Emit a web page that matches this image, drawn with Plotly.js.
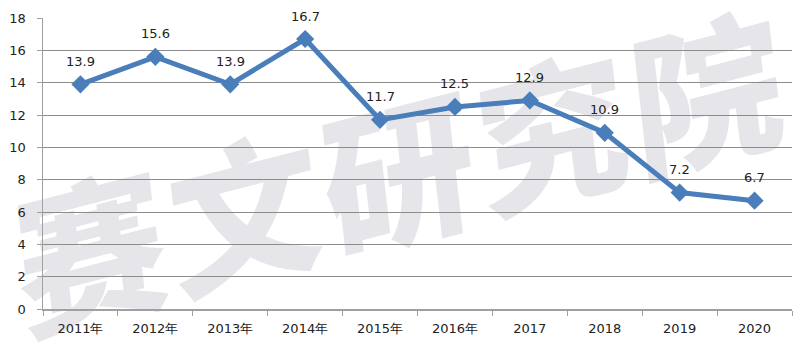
<!DOCTYPE html>
<html>
<head>
<meta charset="utf-8">
<script src="https://cdn.plot.ly/plotly-3.0.1.min.js"></script>
<style>
html,body{margin:0;padding:0;background:#fff;}
#wrap{position:relative;width:811px;height:354px;overflow:hidden;background:#fff;}
#wm{position:absolute;left:400px;top:165px;transform:translate(-50%,-50%) rotate(-14.5deg) skewX(-8deg);
  font-family:"Noto Sans CJK SC";font-weight:900;font-size:154px;color:#e6e6ea;white-space:nowrap;line-height:1;letter-spacing:5px;}
#chart{position:absolute;left:0;top:0;width:811px;height:354px;}
</style>
</head>
<body>
<div id="wrap">
<div id="wm">赛文研究院</div>
<div id="chart"></div>
</div>
<script>
const categories = ["2011年","2012年","2013年","2014年","2015年","2016年","2017","2018","2019","2020"];
const values = [13.9, 15.6, 13.9, 16.7, 11.7, 12.5, 12.9, 10.9, 7.2, 6.7];
const labels = ["13.9","15.6","13.9","16.7","11.7","12.5","12.9","10.9","7.2","6.7"];

const trace = {
  type: "scatter",
  mode: "lines+markers",
  x: categories,
  y: values,
  line: {color: "#4a7ebb", width: 5},
  marker: {symbol: "diamond", size: 14, color: "#4a7ebb"},
  hoverinfo: "skip"
};

const annotations = categories.map((c, i) => ({
  x: i, y: values[i], text: labels[i], showarrow: false,
  yshift: 23, font: {family: "DejaVu Sans", size: 13, color: "#222"}
}));

const layout = {
  width: 811, height: 354,
  margin: {l: 43, r: 19, t: 18, b: 45},
  paper_bgcolor: "rgba(0,0,0,0)",
  plot_bgcolor: "rgba(0,0,0,0)",
  showlegend: false,
  font: {family: "DejaVu Sans", size: 13, color: "#222"},
  xaxis: {
    type: "category",
    categoryorder: "array", categoryarray: categories,
    range: [-0.5, categories.length - 0.5],
    autorange: false,
    showgrid: false,
    showline: true, linecolor: "#a0a0a0", linewidth: 1.5,
    ticks: "outside", ticklen: 5, tickcolor: "#a0a0a0",
    tickson: "boundaries",
    tickangle: 0,
    ticklabelstandoff: 7,
    tickfont: {family: "DejaVu Sans", size: 13, color: "#222"},
    zeroline: false
  },
  yaxis: {
    range: [0, 18], dtick: 2, autorange: false,
    showgrid: true, gridcolor: "#8c8c8c", gridwidth: 1,
    showline: true, linecolor: "#a0a0a0", linewidth: 1.5,
    ticks: "outside", ticklen: 5, tickcolor: "#a0a0a0",
    ticklabelstandoff: 8,
    tickfont: {family: "DejaVu Sans", size: 13, color: "#222"},
    zeroline: false
  },
  annotations: annotations
};

Plotly.newPlot("chart", [trace], layout, {displayModeBar: false, staticPlot: true});
</script>
</body>
</html>
